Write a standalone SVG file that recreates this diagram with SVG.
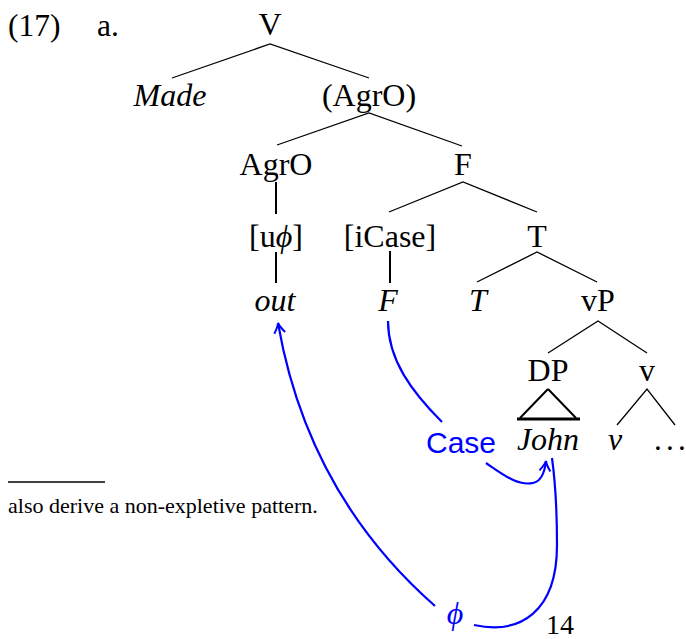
<svg xmlns="http://www.w3.org/2000/svg" width="686" height="639" viewBox="0 0 686 639">
<style>
text{font-family:"Liberation Serif","Times New Roman",serif;fill:#000}
.t{font-size:32px;text-anchor:middle}
.i{font-style:italic}
.e{stroke:#000;stroke-width:1.3;fill:none}
.v{stroke:#000;stroke-width:2;fill:none}
.b{stroke:#0000ff;stroke-width:2.2;fill:none}
.bt{fill:#0000ff}
</style>
<defs>
<marker id="ah" markerUnits="userSpaceOnUse" orient="auto" overflow="visible" markerWidth="12" markerHeight="12">
<path d="M-10,-5.5 Q-4,-1 0,0 Q-4,1 -10,5.5" stroke="#0000ff" stroke-width="2" fill="none"/>
</marker>
</defs>
<rect width="686" height="639" fill="#fff"/>
<g id="label">
<text x="8" y="36" style="font-size:31.5px">(17)</text>
<text x="97" y="36" style="font-size:31.5px">a.</text>
</g>
<g id="n-V"><text class="t" x="270" y="35">V</text></g>
<g id="n-Made"><text class="t i" x="170" y="106">Made</text></g>
<g id="n-AgrOP"><text class="t" x="369" y="106">(AgrO)</text></g>
<g id="n-AgrO"><text class="t" x="276" y="175">AgrO</text></g>
<g id="n-F"><text class="t" x="463" y="175">F</text></g>
<g id="n-uphi"><text class="t" x="276" y="247">[u<tspan class="i">ϕ</tspan>]</text></g>
<g id="n-iCase"><text class="t" x="390" y="247">[iCase]</text></g>
<g id="n-T"><text class="t" x="537" y="247">T</text></g>
<g id="n-out"><text class="t i" x="275" y="311">out</text></g>
<g id="n-Fi"><text class="t i" x="388" y="311">F</text></g>
<g id="n-Ti"><text class="t i" x="478" y="311">T</text></g>
<g id="n-vP"><text class="t" x="598" y="311">vP</text></g>
<g id="n-DP"><text class="t" x="548" y="381">DP</text></g>
<g id="n-v"><text class="t" x="647" y="381">v</text></g>
<g id="n-John">
<path d="M548,389 L520,418 M548,389 L576,418" stroke="#000" stroke-width="2" fill="none"/>
<path d="M517,419 L580,419" stroke="#000" stroke-width="3.2"/>
<text class="t i" x="548" y="450">John</text>
</g>
<g id="n-vi"><text class="t i" x="615" y="450">v</text></g>
<g id="n-dots"><text x="654 666 678" y="450" style="font-size:31px">...</text></g>
<g id="n-Case"><text class="bt" x="426" y="453" style="font-family:'Liberation Sans',Arial,sans-serif;font-size:30px">Case</text></g>
<g id="n-phi"><text class="bt i" x="455" y="624" style="font-size:32px;text-anchor:middle">ϕ</text></g>
<g id="footnote">
<path d="M8,482 L105,482" stroke="#000" stroke-width="1.6"/>
<text x="8" y="513" style="font-size:22px">also derive a non-expletive pattern.</text>
</g>
<g id="page"><text x="546" y="634" style="font-size:28px">14</text></g>
<g id="connectors">
<path class="e" d="M172,78 L270,44 L369,78"/>
<path class="e" d="M277,145 L369,113 L462,146"/>
<path class="v" d="M276,182 L276,214 M276,252 L276,283 M390,251 L390,283"/>
<path class="e" d="M389,212 L463,182 L537,212"/>
<path class="e" d="M477,282 L537,252 L597,282"/>
<path class="e" d="M548,353 L598,321 L647,353"/>
<path class="e" d="M617,425 L647,389 L675,425"/>
<path class="b" d="M388,321 C388,360 412,392 442,422"/>
<path class="b" d="M486,463 C505,476 518,486 533,483 C542,481 545,470 546,461" marker-end="url(#ah)"/>
<path class="b" d="M435,606 C360,540 300,450 278,323" marker-end="url(#ah)"/>
<path class="b" d="M474,625 C520,635 557,612 557,545 C557,510 555,480 552,458"/>
</g>
</svg>
